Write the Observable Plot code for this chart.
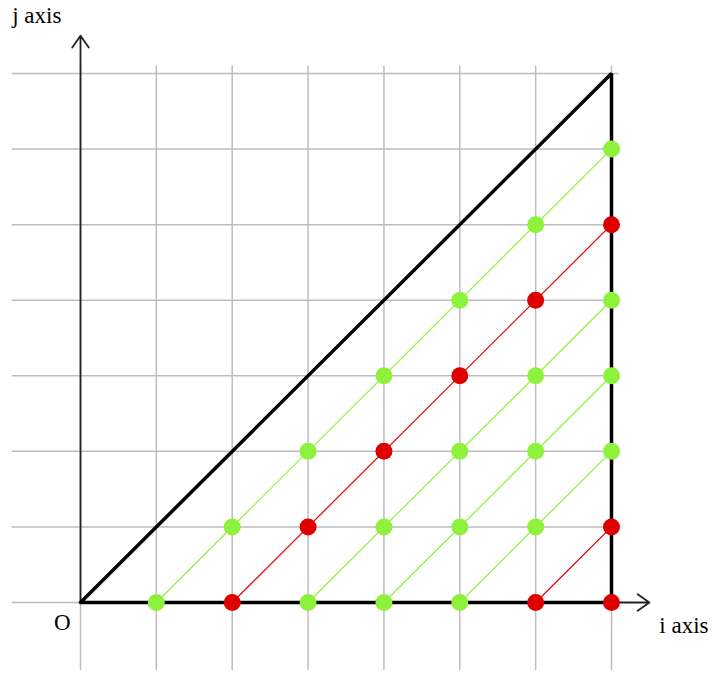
<!DOCTYPE html>
<html>
<head>
<meta charset="utf-8">
<script src="https://cdn.jsdelivr.net/npm/d3@7"></script>
<script src="https://cdn.jsdelivr.net/npm/@observablehq/plot@0.6"></script>
<style>
  html, body { margin: 0; padding: 0; background: #fff; }
  #chart svg { display: block; }
</style>
</head>
<body>
<div id="chart"></div>
<script>
// Grid positions
const gridTicks = [0, 1, 2, 3, 4, 5, 6, 7];
const gridExtent = [-0.9, 7.1];

// Lattice points (i, j) and their colour class
const pointI = [1,2,3,4,5,6,7, 2,3,4,5,6,7, 3,4,5,6,7, 4,5,6,7, 5,6,7, 6,7, 7];
const pointJ = [0,0,0,0,0,0,0, 1,1,1,1,1,1, 2,2,2,2,2, 3,3,3,3, 4,4,4, 5,5, 6];
const pointClass = [
  "g","r","g","g","g","r","r",
  "g","r","g","g","g","r",
  "g","r","g","g","g",
  "g","r","g","g",
  "g","r","g",
  "g","r",
  "g"
];

// Diagonal segments from (startI, 0) to (7, endJ)
const diagStartI = [1, 2, 3, 4, 5, 6];
const diagEndJ   = [6, 5, 4, 3, 2, 1];
const diagClass  = ["g", "r", "g", "g", "g", "r"];

// Triangle outline
const triI = [0, 7, 7, 0];
const triJ = [0, 7, 0, 0];

const palette = { g: "#8ef23c", r: "#de0000" };

const points = pointI.map((i, k) => ({ i, j: pointJ[k], c: pointClass[k] }));
const diags = diagStartI.map((s, k) => ({ x1: s, y1: 0, x2: 7, y2: diagEndJ[k], c: diagClass[k] }));
const tri = triI.map((i, k) => ({ i, j: triJ[k] }));
const startLabels = [
  { x: -0.9, y: 7.76, t: "j axis" },
  { x: 7.63, y: -0.3, t: "i axis" }
];
const midLabels = [
  { x: -0.24, y: -0.27, t: "O" }
];

const chart = Plot.plot({
  width: 716,
  height: 675,
  margin: 0,
  x: { domain: [0, 7], range: [80, 611], axis: null },
  y: { domain: [0, 7], range: [602, 73], axis: null },
  style: { background: "#fff", fontFamily: "'Liberation Serif', 'DejaVu Serif', serif" },
  marks: [
    Plot.ruleY(gridTicks, { y: d => d, x1: gridExtent[0], x2: gridExtent[1], stroke: "#bdbdbd", strokeWidth: 1.5 }),
    Plot.ruleX(gridTicks, { x: d => d, y1: gridExtent[0], y2: gridExtent[1], stroke: "#bdbdbd", strokeWidth: 1.5 }),
    Plot.arrow([{ x1: 0, y1: 0, x2: 7.5, y2: 0 }, { x1: 0, y1: 0, x2: 0, y2: 7.5 }], {
      x1: "x1", y1: "y1", x2: "x2", y2: "y2",
      stroke: "#222", strokeWidth: 1.8, headLength: 12, headAngle: 70, bend: 0
    }),
    Plot.link(diags, { x1: "x1", y1: "y1", x2: "x2", y2: "y2", stroke: d => palette[d.c], strokeWidth: 1.2 }),
    Plot.line(tri, { x: "i", y: "j", stroke: "#000", strokeWidth: 3.5, strokeLinejoin: "miter" }),
    Plot.dot(points, { x: "i", y: "j", r: 8.5, fill: d => palette[d.c], stroke: "none" }),
    Plot.text(startLabels, { x: "x", y: "y", text: "t", textAnchor: "start", fontSize: 23, fill: "#000" }),
    Plot.text(midLabels, { x: "x", y: "y", text: "t", textAnchor: "middle", fontSize: 23, fill: "#000" })
  ]
});
document.getElementById("chart").appendChild(chart);
</script>
</body>
</html>
